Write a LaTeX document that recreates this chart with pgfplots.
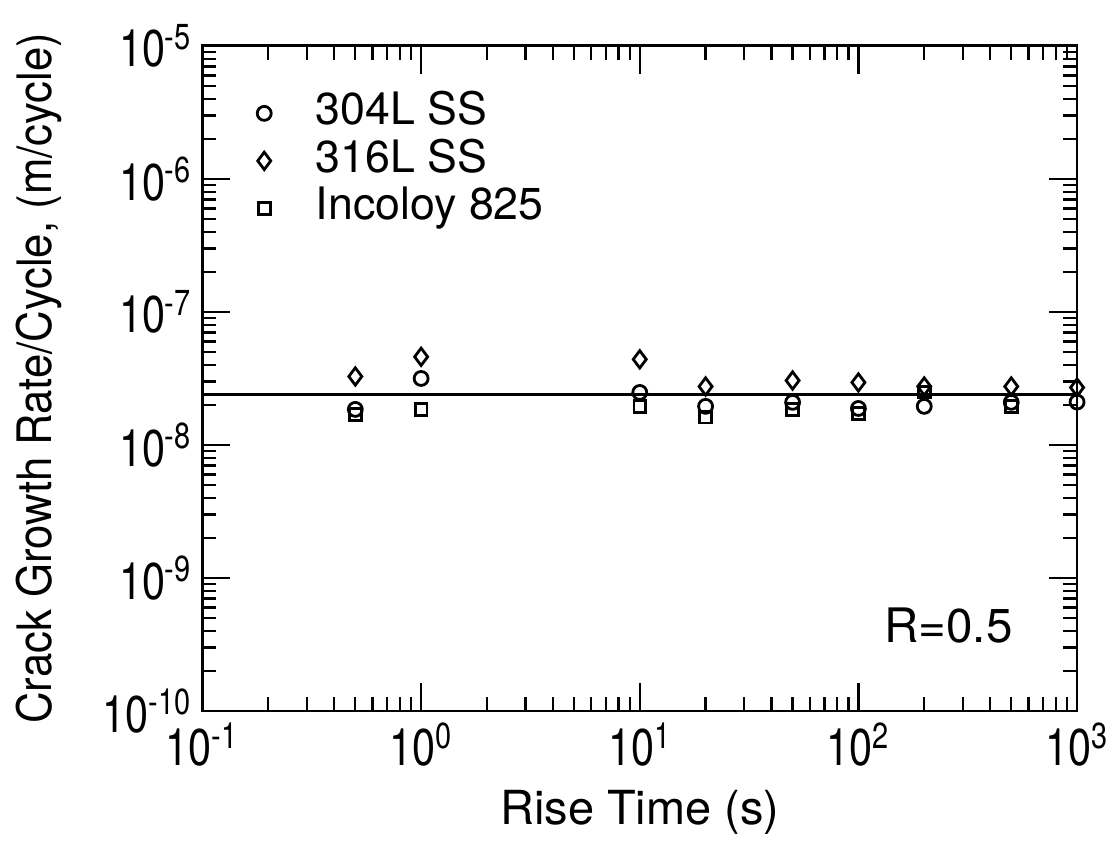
\documentclass[border=0pt]{standalone}
\usepackage{fontspec}
\setmainfont{TeX Gyre Heros}
\newfontfamily\narrowfont{TeX Gyre Heros}[FakeStretch=0.92]
\newfontfamily\tickfont{TeX Gyre Heros}[FakeStretch=0.8]
\usepackage{pgfplots}
\pgfplotsset{compat=1.18}

\begin{document}
\begin{tikzpicture}
\begin{axis}[
    width=313pt, height=238pt,
    scale only axis,
    xmode=log, ymode=log,
    xmin=0.1, xmax=1000,
    ymin=1e-10, ymax=1e-5,
    xtick={0.1,1,10,100,1000},
    xticklabels={10\textsuperscript{-1},10\textsuperscript{0},10\textsuperscript{1},10\textsuperscript{2},10\textsuperscript{3}},
    ytick={1e-10,1e-9,1e-8,1e-7,1e-6,1e-5},
    yticklabels={10\textsuperscript{-10},10\textsuperscript{-9},10\textsuperscript{-8},10\textsuperscript{-7},10\textsuperscript{-6},10\textsuperscript{-5}},
    ticklabel style={font=\tickfont\fontsize{18.5}{22}\selectfont},
    yticklabel style={inner sep=3.5pt},
    xticklabel style={inner sep=4pt},
    xlabel={Rise Time (s)},
    xlabel style={font=\fontsize{16.8}{20}\selectfont, at={(axis description cs:0.5,-0.152)}, anchor=center},
    ylabel={Crack Growth Rate/Cycle, (m/cycle)},
    ylabel style={font=\narrowfont\fontsize{17}{20}\selectfont, at={(axis description cs:-0.187,0.5)}, anchor=center},
    axis line style={line width=1pt},
    major tick length=10pt, minor tick length=5pt,
    every tick/.style={black, line width=0.8pt},
    tick align=inside,
    legend image code/.code={\draw[#1] plot coordinates {(0pt,0pt)};},
    legend style={at={(axis description cs:0.062,0.933)}, anchor=north west,
        draw=none, fill=none, inner sep=0pt, row sep=1pt,
        font=\fontsize{16}{19}\selectfont,
        nodes={inner sep=0pt, text depth=4pt, text height=12pt},
        /tikz/every odd column/.append style={column sep=16pt}},
    legend cell align=left,
    clip=false,
]
\addplot[only marks, mark=o, mark size=2.5pt, mark options={line width=1pt}] coordinates {
    (0.5,1.85e-8) (1,3.16e-8) (10,2.48e-8) (20,1.95e-8) (50,2.09e-8)
    (100,1.88e-8) (200,1.95e-8) (500,2.09e-8) (1000,2.1e-8)
};
\addplot[only marks, mark=diamond, mark size=3.1pt, mark options={line width=1pt}] coordinates {
    (0.5,3.27e-8) (1,4.6e-8) (10,4.4e-8) (20,2.75e-8) (50,3.05e-8)
    (100,2.95e-8) (200,2.75e-8) (500,2.75e-8) (1000,2.7e-8)
};
\addplot[only marks, mark=square, mark size=2.1pt, mark options={line width=1pt}] coordinates {
    (0.5,1.7e-8) (1,1.85e-8) (10,1.95e-8) (20,1.62e-8) (50,1.85e-8)
    (100,1.72e-8) (200,2.5e-8) (500,1.95e-8)
};
\addplot[black, line width=1pt, forget plot] coordinates {(0.1,2.4e-8) (1000,2.4e-8)};
\legend{304L SS, 316L SS, Incoloy 825}
\node[font=\fontsize{17}{20}\selectfont] at (rel axis cs:0.853,0.128) {R=0.5};
\path (rel axis cs:-0.2315,-0.207) rectangle (rel axis cs:1.0456,1.069);
\end{axis}
\end{tikzpicture}
\end{document}
